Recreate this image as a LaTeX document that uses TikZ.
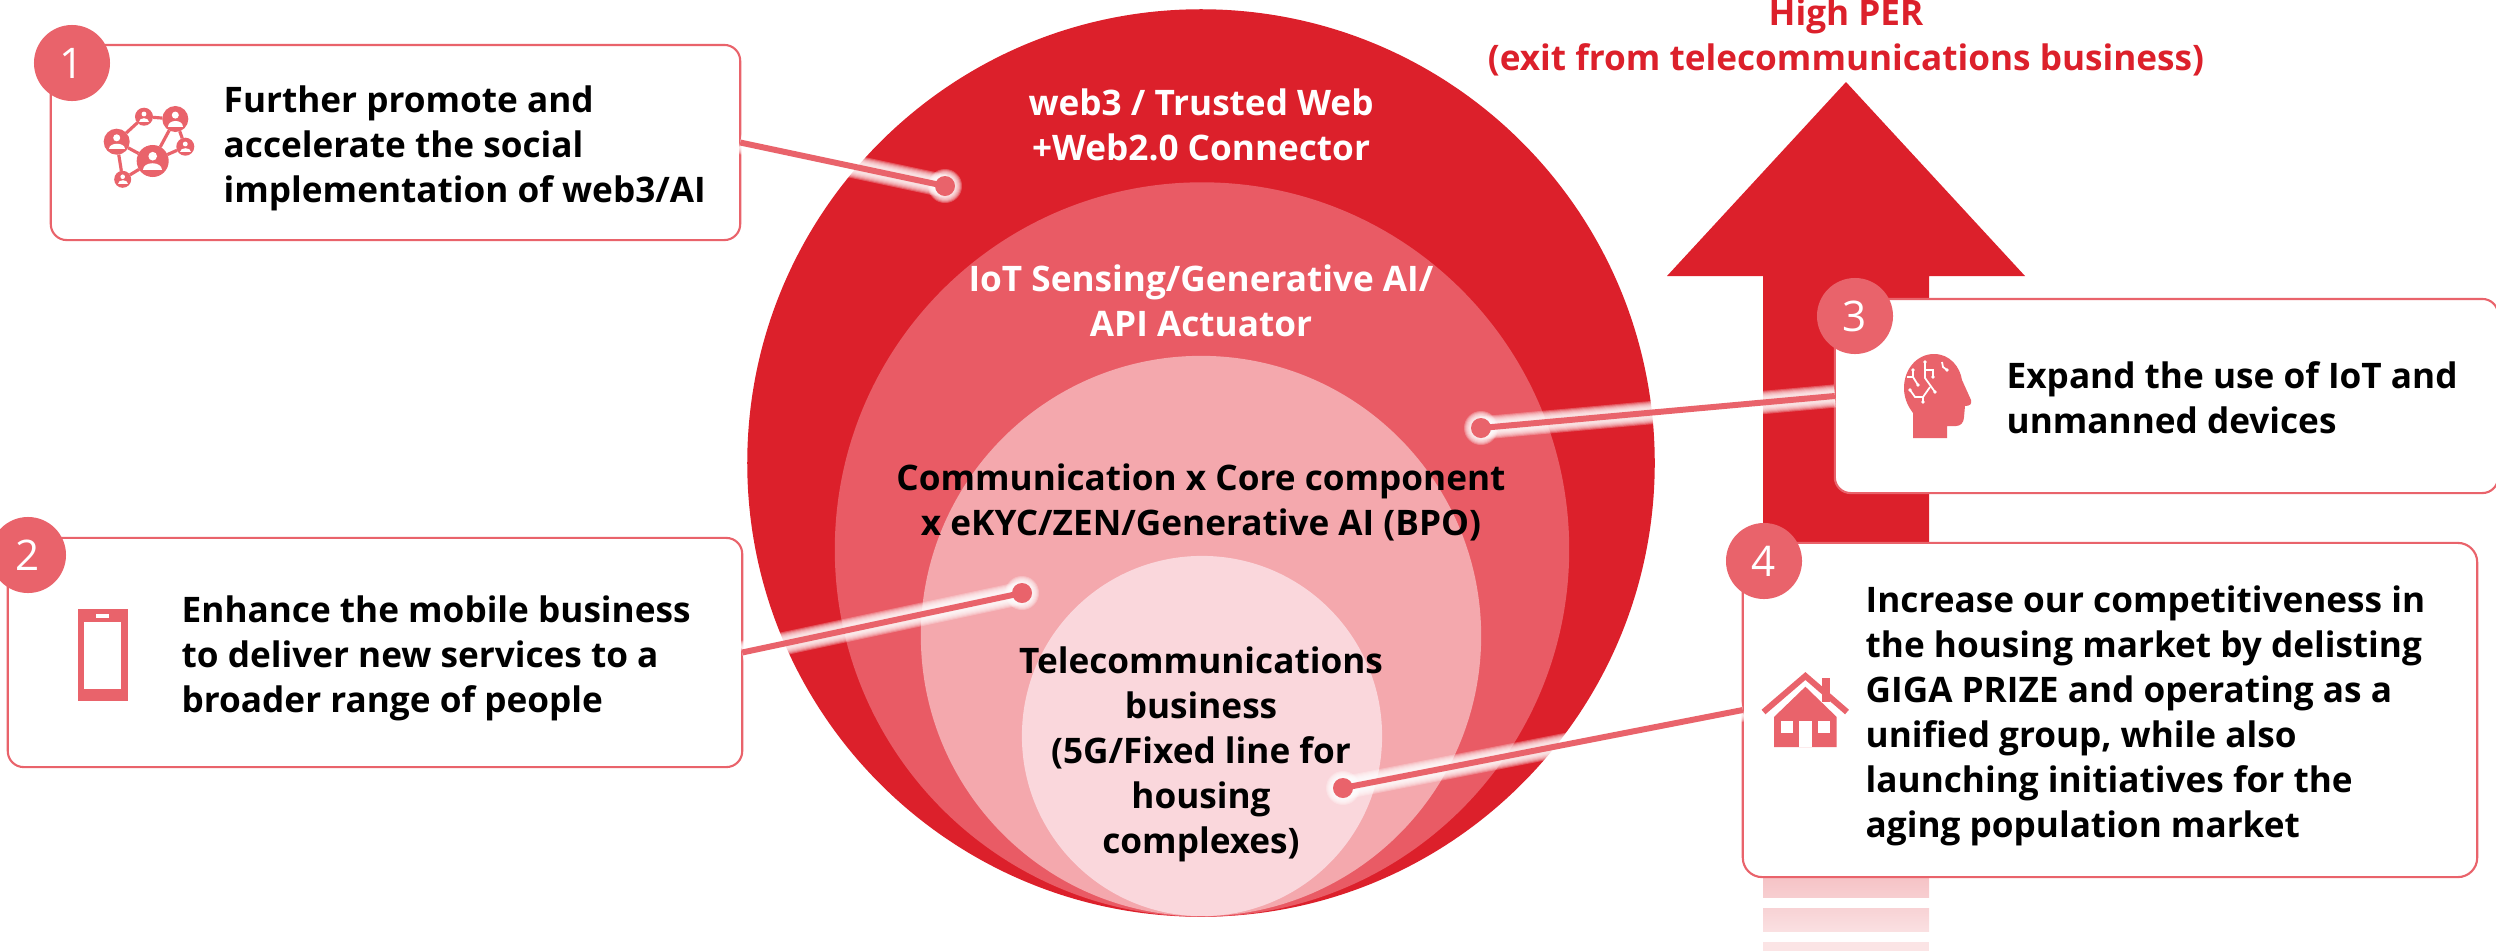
\documentclass[tikz,border=0pt]{standalone}
\usepackage{fontspec}
\setmainfont{Open Sans}
\usetikzlibrary{calc}
\definecolor{deepred}{HTML}{DC202B}
\definecolor{midred}{HTML}{E95B65}
\definecolor{softred}{HTML}{F4A8AD}
\definecolor{palered}{HTML}{FAD7DC}
\definecolor{linkred}{HTML}{E9636B}
\tikzset{
ring/.style={circle,inner sep=0pt,outer sep=0pt},
msgbox/.style={draw=linkred,line width=0.6pt,fill=white,inner sep=0pt,outer sep=0pt},
badge/.style={circle,fill=linkred,text=white,minimum size=0.76cm,inner sep=0pt,font=\fontsize{12}{12}\selectfont},
msgtext/.style={anchor=west,align=left,inner sep=0pt,font=\fontsize{10}{12.8}\selectfont\bfseries},
ringtext/.style={align=center,inner sep=0pt,font=\fontsize{10}{12.8}\selectfont\bfseries},
linkdot/.style={circle,fill=linkred,minimum size=0.2cm,inner sep=0pt,outer sep=0pt},
netdot/.style={circle,fill=linkred,inner sep=0pt,outer sep=0pt}
}
\newcommand{\glowlink}[2]{%
\foreach \w in {6.6,6,5.4,4.8,4.2,3.6,3}{
\draw[white,opacity=.25,line width=\w pt] (#1.center) -- (#2);
}
\foreach \w in {17,16,15,14,13,12,11}{
\fill[white,opacity=.25] (#1.center) circle (\w);
}
\draw[linkred,line width=1.7pt] (#1.center) -- (#2);
}
\begin{document}
\begin{tikzpicture}[x=0.01cm,y=-0.01cm]
\useasboundingbox (0,0) rectangle (2496,951);
\fill[deepred] (1763,877) -- (1763,276) -- (1667,276) -- (1846,82) -- (2025,276) -- (1929,276) -- (1929,877) -- cycle;
\shade[top color=deepred!27,bottom color=deepred!22] (1763,877) rectangle (1929,897);
\shade[top color=deepred!20,bottom color=deepred!14] (1763,908) rectangle (1929,931);
\fill[deepred!12] (1763,942) rectangle (1929,951);
\node[ring,fill=deepred,minimum size=9.07cm] (ringweb) at (1201,463) {};
\node[ring,fill=midred,minimum size=7.34cm] (ringiot) at (1202,549.5) {};
\node[ring,fill=softred,minimum size=5.60cm] (ringcom) at (1201,636) {};
\node[ring,fill=palered,minimum size=3.60cm] (ringtel) at (1202,736) {};
\node[msgbox,rounded corners=4.5pt,minimum width=6.89cm,minimum height=1.95cm] (boxone) at (395.5,142.5) {};
\node[msgbox,rounded corners=4.5pt,minimum width=7.34cm,minimum height=2.29cm] (boxtwo) at (375,652.5) {};
\node[msgbox,rounded corners=4.5pt,minimum width=6.63cm,minimum height=1.94cm] (boxthree) at (2166.5,396) {};
\node[msgbox,rounded corners=5.5pt,minimum width=7.34cm,minimum height=3.34cm] (boxfour) at (2110,710) {};
\node[linkdot] (dotone) at (945,186) {};
\node[linkdot] (dottwo) at (1022,593) {};
\node[linkdot] (dotthree) at (1481,428) {};
\node[linkdot] (dotfour) at (1343,788) {};
\glowlink{dotone}{boxone.east}
\glowlink{dottwo}{boxtwo.east}
\glowlink{dotthree}{boxthree.west}
\glowlink{dotfour}{boxfour.west}
\node[linkdot] at (dotone) {};
\node[linkdot] at (dottwo) {};
\node[linkdot] at (dotthree) {};
\node[linkdot] at (dotfour) {};
\node[badge] (badgeone) at (72,63) {1};
\node[badge] (badgetwo) at (28,555) {2};
\node[badge] (badgethree) at (1855,316) {3};
\node[badge] (badgefour) at (1764,561) {4};
\node[ringtext,text=deepred] (toplabel) at (1846,37) {High PER\\(exit from telecommunications business)};
\node[ringtext,text=white] (labelweb) at (1201,125) {web3 / Trusted Web\\+Web2.0 Connector};
\node[ringtext,text=white] (labeliot) at (1201,301) {IoT Sensing/Generative AI/\\API Actuator};
\node[ringtext] (labelcom) at (1201,502) {Communication x Core component\\x eKYC/ZEN/Generative AI (BPO)};
\node[ringtext] (labeltel) at (1201,754.5) {Telecommunications\\business\\(5G/Fixed line for\\housing\\complexes)};
\node[msgtext] (textone) at (223,148.5) {Further promote and\\accelerate the social\\implementation of web3/AI};
\node[msgtext] (texttwo) at (181,658.5) {Enhance the mobile business\\to deliver new services to a\\broader range of people};
\node[msgtext] (textthree) at (2006,398) {Expand the use of IoT and\\unmanned devices};
\node[msgtext] (textfour) at (1865,715.5) {Increase our competitiveness in\\the housing market by delisting\\GIGA PRIZE and operating as a\\unified group, while also\\launching initiatives for the\\aging population market};
% network icon
\node[netdot,minimum size=0.32cm] (nwbig) at (152.7,161) {};
\node[netdot,minimum size=0.26cm] (nwleft) at (116.7,141.7) {};
\node[netdot,minimum size=0.18cm] (nwtop) at (144,116.7) {};
\node[netdot,minimum size=0.26cm] (nwcorner) at (175.3,119) {};
\node[netdot,minimum size=0.18cm] (nwright) at (185.3,146.7) {};
\node[netdot,minimum size=0.17cm] (nwlow) at (122.7,179.3) {};
\draw[linkred,line width=0.9pt] (nwleft) -- (nwtop) (nwtop) -- (nwcorner) (nwcorner) -- (nwbig) (nwcorner) -- (nwright) (nwright) -- (nwbig) (nwleft) -- (nwbig) (nwleft) -- (nwlow) (nwlow) -- (nwbig);
\foreach \n/\r in {nwbig/16,nwleft/13,nwtop/9,nwcorner/13,nwright/9,nwlow/8.5}{
\begin{scope}[shift={(\n)}]
\fill[white] (0,-.3*\r) circle (.27*\r);
\fill[white] (-.6*\r,.58*\r) .. controls (-.6*\r,.02*\r) and (.6*\r,.02*\r) .. (.6*\r,.58*\r) -- cycle;
\end{scope}
}
% phone icon
\fill[linkred] (78,609) rectangle (128,701);
\fill[white] (84,622) rectangle (121,689);
\fill[white] (96,614) rectangle (109,617.5);
% head icon
\begin{scope}[shift={(1890,345)}]
\fill[linkred] (23,93) -- (23,68) .. controls (17,60) and (14,52) .. (14,43) .. controls (14,24) and (27,9) .. (44,9) .. controls (60,9) and (70,22) .. (72,35) -- (81,55) .. controls (82,59) and (80,61) .. (75,61) -- (74,72) .. controls (74,78) and (70,81) .. (66,81) -- (57,81) -- (57,93) -- cycle;
\draw[white,line width=0.5pt] (35,17) -- (35,33) -- (45,47);
\draw[white,line width=0.5pt] (35,25) -- (43,25) -- (43,32);
\draw[white,line width=0.5pt] (23,25) -- (23,32) -- (17,32);
\draw[white,line width=0.5pt] (23,32) -- (28,40);
\draw[white,line width=0.5pt] (20,45) -- (25,52) -- (33,52) -- (33,57);
\draw[white,line width=0.5pt] (33,52) -- (40,42);
\draw[white,line width=0.5pt] (52,17) -- (53,22) -- (57,25);
\foreach \p in {(35,17),(43,32),(23,25),(28,40),(20,45),(33,57),(45,47),(57,25)}{
\fill[white] \p circle (1.8);
}
\end{scope}
% house icon
\fill[linkred] (1774,747) -- (1774,717) -- (1805.4,686.7) -- (1836.7,717) -- (1836.7,747) -- cycle;
\fill[white] (1780.6,721) rectangle (1792.5,732.7);
\fill[white] (1818.4,721) rectangle (1830.2,732.7);
\fill[white] (1799,721) rectangle (1812,747);
\fill[linkred] (1821.6,678) rectangle (1830,702);
\draw[linkred,line width=1.7pt] (1763.5,712) -- (1805.4,676) -- (1847,712);
\end{tikzpicture}
\end{document}
